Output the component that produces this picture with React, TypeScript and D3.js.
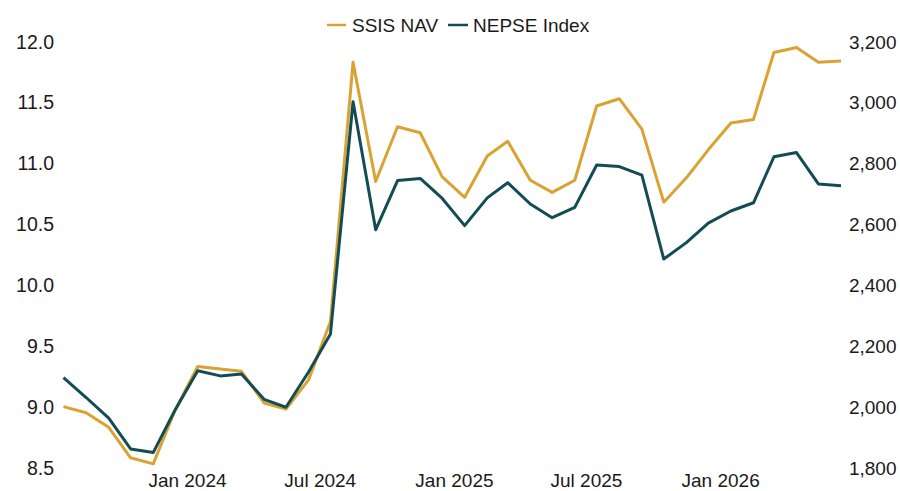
import React from "react";
import * as d3 from "d3";

// Monthly observations (mid-month), Jul 2023 – Jun 2026
const startYear = 2023;
const startMonth = 6; // July (0-based)
const navValues = [
  9.0, 8.95, 8.83, 8.58, 8.53, 8.97, 9.33, 9.31, 9.29, 9.03, 8.98, 9.22,
  9.7, 11.83, 10.85, 11.3, 11.25, 10.89, 10.72, 11.06, 11.18, 10.86, 10.76, 10.86,
  11.47, 11.53, 11.28, 10.68, 10.88, 11.11, 11.33, 11.36, 11.91, 11.95, 11.83, 11.84,
];
const nepseValues = [
  2095, 2030, 1962, 1861, 1849, 1989, 2118, 2101, 2107, 2024, 1998, 2114,
  2239, 3002, 2581, 2743, 2750, 2685, 2595, 2686, 2736, 2666, 2621, 2655,
  2794, 2789, 2761, 2485, 2539, 2603, 2643, 2670, 2821, 2835, 2732, 2726,
];
const leftTicks = [8.5, 9.0, 9.5, 10.0, 10.5, 11.0, 11.5, 12.0];
const rightTicks = [1800, 2000, 2200, 2400, 2600, 2800, 3000, 3200];
const xTickLabels = ["Jan 2024", "Jul 2024", "Jan 2025", "Jul 2025", "Jan 2026"];
const seriesNames = ["SSIS NAV", "NEPSE Index"];
const seriesColors = ["#DAA233", "#134C54"];

const W = 900;
const H = 491;
const FONT = "'Liberation Sans', Arial, sans-serif";

export default function App() {
  const dates = navValues.map((_, i) => new Date(startYear, startMonth + i, 15));
  const tickDates = xTickLabels.map((l) => d3.timeParse("%b %Y")(l) as Date);

  const x = d3
    .scaleTime()
    .domain([dates[0], dates[dates.length - 1]])
    .range([63.5, 841]);
  const yL = d3.scaleLinear().domain([8.5, 12.0]).range([467.5, 41.5]);
  const yR = d3.scaleLinear().domain([1800, 3200]).range([467.5, 41.5]);

  const navLine = d3
    .line<number>()
    .x((_, i) => x(dates[i]))
    .y((d) => yL(d));
  const nepseLine = d3
    .line<number>()
    .x((_, i) => x(dates[i]))
    .y((d) => yR(d));

  const fmtR = d3.format(",");

  return (
    <svg
      width={W}
      height={H}
      style={{ position: "absolute", left: 0, top: 0, background: "#fff" }}
      fontFamily={FONT}
    >
      <rect width={W} height={H} fill="#fff" />
      {/* Legend */}
      <g>
        <line x1={327} x2={346} y1={25} y2={25} stroke={seriesColors[0]} strokeWidth={2.5} />
        <text x={352} y={32} fontSize={19} fill="#1a1a1a">
          {seriesNames[0]}
        </text>
        <line x1={448} x2={468} y1={25} y2={25} stroke={seriesColors[1]} strokeWidth={2.5} />
        <text x={473} y={32} fontSize={19} fill="#1a1a1a">
          {seriesNames[1]}
        </text>
      </g>
      {/* Left axis */}
      <g>
        {leftTicks.map((t) => (
          <text key={t} x={54} y={yL(t) + 7} fontSize={19.5} textAnchor="end" fill="#1a1a1a">
            {d3.format(".1f")(t)}
          </text>
        ))}
      </g>
      {/* Right axis */}
      <g>
        {rightTicks.map((t) => (
          <text key={t} x={896.5} y={yR(t) + 7} fontSize={19} textAnchor="end" fill="#1a1a1a">
            {fmtR(t)}
          </text>
        ))}
      </g>
      {/* X axis labels */}
      <g>
        {tickDates.map((d, i) => (
          <text key={i} x={x(d)} y={487} fontSize={19} textAnchor="middle" fill="#1a1a1a">
            {xTickLabels[i]}
          </text>
        ))}
      </g>
      {/* Lines */}
      <path
        d={navLine(navValues) || ""}
        fill="none"
        stroke={seriesColors[0]}
        strokeWidth={3}
        strokeLinejoin="round"
      />
      <path
        d={nepseLine(nepseValues) || ""}
        fill="none"
        stroke={seriesColors[1]}
        strokeWidth={3}
        strokeLinejoin="round"
      />
    </svg>
  );
}
